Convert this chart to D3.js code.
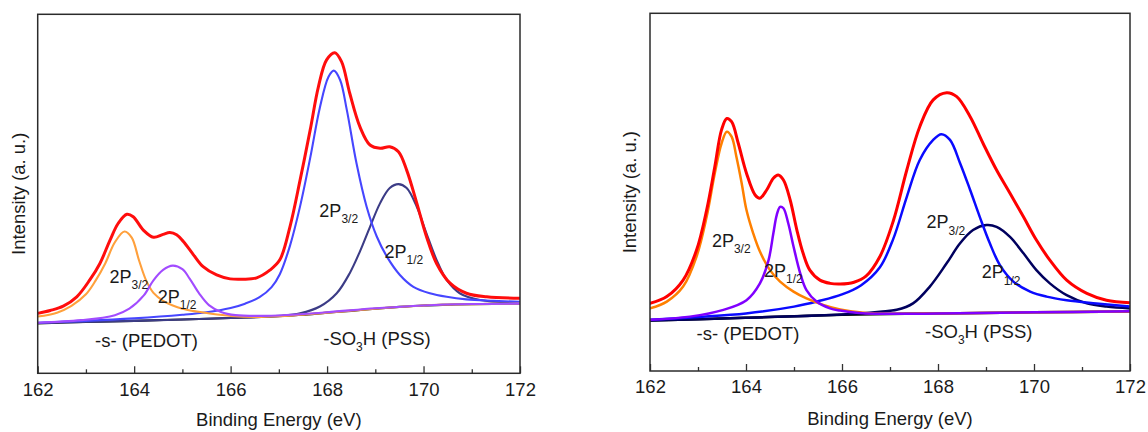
<!DOCTYPE html>
<html>
<head>
<meta charset="utf-8">
<script src="https://cdn.jsdelivr.net/npm/d3@7"></script>
<style>
  html, body { margin: 0; padding: 0; background: #ffffff; }
  svg { display: block; }
  text { font-family: "Liberation Sans", Arial, Helvetica, sans-serif; fill: #1a1a1a; }
</style>
</head>
<body>
<svg id="chart" width="1148" height="432"></svg>
<script>
// Binding-energy axis ticks (eV)
const energyTicks = [162, 164, 166, 168, 170, 172];
const minorTicks = [163, 165, 167, 169, 171];

// ---- Left spectrum: [binding energy (eV), intensity (a.u.)] ----
const leftBackground = [[162.0,13.9],[163.0,14.3],[164.0,14.6],[165.0,15.0],[166.0,15.4],[166.5,15.6],[167.0,15.9],[167.5,16.3],[168.0,16.9],[168.5,17.4],[169.0,18.0],[169.5,18.5],[170.0,18.9],[170.5,19.1],[171.0,19.25],[172.0,19.4]];
const leftPedot32 = [[162.0,15.8],[162.4,16.9],[162.7,18.8],[163.0,22.0],[163.2,25.8],[163.4,30.6],[163.6,36.5],[163.8,39.5],[163.95,37.8],[164.1,31.5],[164.25,25.8],[164.4,22.4],[164.6,20.2],[164.8,18.9],[165.0,18.0],[165.3,17.2],[165.6,16.6],[166.0,16.0],[166.5,15.7],[167.0,15.9],[168.0,16.9],[169.0,18.0],[170.0,18.9],[171.0,19.25],[172.0,19.4]];
const leftPedot12 = [[162.0,14.1],[162.9,14.8],[163.6,16.2],[163.9,18.0],[164.2,21.7],[164.4,25.9],[164.6,28.8],[164.8,30.0],[165.0,29.0],[165.15,26.4],[165.35,22.2],[165.55,19.0],[165.8,17.1],[166.1,16.2],[166.7,16.0],[167.0,16.1],[168.0,17.0],[169.0,18.1],[170.0,18.9],[171.0,19.3],[172.0,19.4]];
const leftPss32 = [[162.0,14.1],[163.0,14.6],[164.0,15.3],[165.0,16.3],[165.5,17.0],[166.0,18.2],[166.3,19.4],[166.6,21.2],[166.85,24.0],[167.02,27.6],[167.23,35.5],[167.44,46.5],[167.65,60.0],[167.85,74.0],[168.03,82.6],[168.14,84.3],[168.27,81.7],[168.41,73.3],[168.61,58.5],[168.82,46.4],[169.03,38.1],[169.24,32.5],[169.51,27.4],[169.79,24.1],[170.13,22.3],[170.48,21.3],[170.89,20.6],[171.45,20.2],[172.0,19.9]];
const leftPss12 = [[162.0,14.0],[164.0,14.6],[166.0,15.4],[167.02,16.0],[167.44,16.7],[167.85,18.6],[168.2,22.3],[168.47,27.9],[168.68,33.9],[168.89,40.8],[169.1,47.4],[169.3,51.6],[169.48,52.7],[169.65,51.6],[169.86,46.4],[170.06,39.0],[170.27,31.6],[170.48,26.0],[170.75,22.3],[171.17,20.4],[172.0,19.7]];
const leftEnvelope = [[162.0,16.7],[162.26,17.5],[162.53,18.7],[162.81,21.3],[163.08,26.0],[163.29,30.6],[163.5,37.1],[163.67,41.8],[163.85,44.3],[163.98,43.6],[164.19,39.9],[164.4,37.9],[164.6,38.7],[164.74,39.2],[164.88,38.6],[165.02,36.7],[165.23,33.0],[165.43,29.7],[165.71,27.4],[165.99,26.3],[166.26,26.2],[166.54,26.6],[166.82,28.8],[167.02,31.6],[167.23,40.8],[167.44,53.8],[167.65,67.8],[167.82,79.8],[167.99,87.3],[168.16,89.3],[168.3,86.8],[168.47,78.0],[168.68,68.7],[168.89,63.6],[169.1,62.7],[169.3,63.1],[169.48,61.7],[169.65,56.6],[169.86,47.4],[170.06,38.1],[170.27,30.6],[170.55,25.1],[170.89,22.3],[171.31,21.3],[172.0,20.9]];

// ---- Right spectrum: [binding energy (eV), intensity (a.u.)] ----
const rightBackground = [[162.0,14.1],[163.0,14.5],[164.0,14.9],[165.0,15.3],[166.0,15.7],[167.0,15.95],[168.0,16.1],[170.0,16.4],[172.0,16.6]];
const rightPedot32 = [[162.0,17.5],[162.35,19.4],[162.69,23.6],[162.97,32.0],[163.18,43.1],[163.35,55.3],[163.49,63.6],[163.6,66.9],[163.7,65.5],[163.8,59.9],[163.91,52.5],[164.01,45.0],[164.15,38.5],[164.29,33.4],[164.5,28.2],[164.71,25.0],[164.99,22.2],[165.26,20.3],[165.61,18.5],[165.96,17.2],[166.5,16.2],[167.0,16.0],[168.0,16.1],[170.0,16.4],[172.0,16.6]];
const rightPedot12 = [[162.0,14.3],[162.83,15.2],[163.53,17.1],[164.01,19.8],[164.29,24.5],[164.47,31.0],[164.57,38.5],[164.64,43.6],[164.71,45.9],[164.78,45.5],[164.88,41.3],[164.99,34.8],[165.13,27.3],[165.26,22.6],[165.47,19.4],[165.75,17.5],[165.96,16.9],[166.3,16.3],[166.7,16.0],[168.0,16.1],[170.0,16.4],[172.0,16.7]];
const rightPss32 = [[162.0,14.3],[163.0,15.1],[164.0,16.1],[165.0,18.0],[165.5,19.5],[166.0,21.4],[166.4,24.0],[166.79,29.0],[167.07,37.0],[167.35,48.7],[167.62,59.0],[167.9,64.6],[168.07,66.2],[168.25,64.6],[168.46,58.1],[168.67,50.6],[168.87,43.1],[169.08,35.7],[169.29,29.6],[169.57,25.0],[169.92,22.2],[170.26,20.8],[170.68,19.8],[171.3,18.9],[172.0,18.0]];
const rightPss12 = [[162.0,14.1],[164.0,14.9],[166.0,15.8],[166.79,16.6],[167.14,17.1],[167.48,18.9],[167.83,23.6],[168.18,30.1],[168.46,35.7],[168.73,39.4],[169.01,40.8],[169.22,40.3],[169.5,37.5],[169.78,32.9],[170.05,28.2],[170.33,24.5],[170.68,21.2],[171.1,18.9],[171.51,18.0],[172.0,17.5]];
const rightEnvelope = [[162.0,18.9],[162.35,20.8],[162.69,25.4],[162.97,33.8],[163.18,45.0],[163.35,57.1],[163.49,67.4],[163.6,70.6],[163.7,69.7],[163.84,63.6],[164.01,55.3],[164.19,49.2],[164.29,48.3],[164.43,50.6],[164.57,53.9],[164.67,54.8],[164.78,53.4],[164.92,47.8],[165.06,39.4],[165.19,32.9],[165.33,28.2],[165.54,25.4],[165.75,24.5],[165.96,24.3],[166.25,24.8],[166.5,26.5],[166.79,32.0],[167.07,42.0],[167.35,56.2],[167.62,68.3],[167.9,75.8],[168.18,77.8],[168.39,76.7],[168.67,71.1],[168.94,63.6],[169.22,56.2],[169.5,49.7],[169.78,43.1],[170.05,36.6],[170.33,31.0],[170.68,25.4],[171.1,21.7],[171.51,19.8],[172.0,19.1]];

const FONT = '"Liberation Sans", Arial, Helvetica, sans-serif';

const panels = [
  {
    frame: { left: 37.7, right: 520, top: 14.3, bottom: 373.3 },
    yLabelX: 25.3, xLabelY: 426,
    width: { env: 3, comp: 2.1 },
    series: [
      { data: leftBackground, color: "#111111" },
      { data: leftPss12, color: "#3c3c86" },
      { data: leftPss32, color: "#4646ff" },
      { data: leftPedot32, color: "#ffa03c" },
      { data: leftPedot12, color: "#a24cff" },
      { data: leftEnvelope, color: "#ff0d0d", env: true }
    ],
    peaks: [
      { e: 163.49, v: 25.2, sub: "3/2" },
      { e: 164.49, v: 19.6, sub: "1/2" },
      { e: 167.84, v: 43.6, sub: "3/2" },
      { e: 169.19, v: 32.2, sub: "1/2" }
    ],
    groups: [
      { e: 163.19, v: 7.2, parts: [["-s- (PEDOT)", false]] },
      { e: 167.92, v: 7.9, parts: [["-SO", false], ["3", true], ["H (PSS)", false]] }
    ]
  },
  {
    frame: { left: 650, right: 1130, top: 13.3, bottom: 371 },
    yLabelX: 635.6, xLabelY: 425,
    width: { env: 3, comp: 2.5 },
    series: [
      { data: rightBackground, color: "#000000" },
      { data: rightPss12, color: "#00005e" },
      { data: rightPss32, color: "#0a0aff" },
      { data: rightPedot32, color: "#ff8000" },
      { data: rightPedot12, color: "#8000ff" },
      { data: rightEnvelope, color: "#ff0000", env: true }
    ],
    peaks: [
      { e: 163.29, v: 34.8, sub: "3/2" },
      { e: 164.375, v: 26.4, sub: "1/2" },
      { e: 167.76, v: 39.9, sub: "3/2" },
      { e: 168.91, v: 25.9, sub: "1/2" }
    ],
    groups: [
      { e: 162.97, v: 8.6, parts: [["-s- (PEDOT)", false]] },
      { e: 167.73, v: 9.1, parts: [["-SO", false], ["3", true], ["H (PSS)", false]] }
    ]
  }
];

const svg = d3.select("#chart");

panels.forEach(p => {
  const f = p.frame;
  const x = d3.scaleLinear().domain([162, 172]).range([f.left, f.right]);
  const y = d3.scaleLinear().domain([0, 100]).range([f.bottom, f.top]);
  const g = svg.append("g");

  // spectra
  const line = d3.line()
    .x(d => x(d[0]))
    .y(d => y(d[1]))
    .curve(d3.curveCatmullRom.alpha(0.5));

  const clipId = "clip" + Math.round(f.left);
  svg.append("clipPath").attr("id", clipId)
    .append("rect")
    .attr("x", f.left).attr("y", f.top)
    .attr("width", f.right - f.left).attr("height", f.bottom - f.top);

  const plot = g.append("g").attr("clip-path", `url(#${clipId})`);
  p.series.forEach(s => {
    plot.append("path")
      .datum(s.data)
      .attr("fill", "none")
      .attr("stroke", s.color)
      .attr("stroke-width", s.env ? p.width.env : p.width.comp)
      .attr("stroke-linejoin", "round")
      .attr("stroke-linecap", "round")
      .attr("d", line);
  });

  // bottom axis: major ticks with labels, minor ticks, both pointing inward
  const axis = g.append("g")
    .attr("transform", `translate(0,${f.bottom})`)
    .call(d3.axisBottom(x).tickValues(energyTicks).tickSizeInner(-7).tickSizeOuter(0).tickPadding(9.3).tickFormat(d3.format("d")));
  axis.select(".domain").remove();
  axis.selectAll("line").attr("stroke", "#333").attr("stroke-width", 1.3);
  axis.selectAll("text").attr("font-size", 18.5).attr("font-family", FONT).attr("fill", "#1a1a1a");

  const minor = g.append("g")
    .attr("transform", `translate(0,${f.bottom})`)
    .call(d3.axisBottom(x).tickValues(minorTicks).tickSizeInner(-4).tickSizeOuter(0).tickFormat(""));
  minor.select(".domain").remove();
  minor.selectAll("line").attr("stroke", "#333").attr("stroke-width", 1.3);

  // frame
  g.append("rect")
    .attr("x", f.left).attr("y", f.top)
    .attr("width", f.right - f.left).attr("height", f.bottom - f.top)
    .attr("fill", "none").attr("stroke", "#2b2b2b").attr("stroke-width", 1.5);

  // axis titles
  g.append("text")
    .attr("x", (f.left + f.right) / 2).attr("y", p.xLabelY)
    .attr("text-anchor", "middle").attr("font-size", 18.5)
    .text("Binding Energy (eV)");
  g.append("text")
    .attr("transform", `translate(${p.yLabelX},${(f.top + f.bottom) / 2}) rotate(-90)`)
    .attr("text-anchor", "middle").attr("font-size", 18.5)
    .text("Intensity (a. u.)");

  // peak labels 2P3/2 / 2P1/2
  p.peaks.forEach(k => {
    const t = g.append("text")
      .attr("x", x(k.e)).attr("y", y(k.v))
      .attr("font-size", 18);
    t.append("tspan").text("2P");
    t.append("tspan").attr("font-size", 12).attr("dy", 6.5).text(k.sub);
  });

  // chemical-state labels
  p.groups.forEach(k => {
    const t = g.append("text")
      .attr("x", x(k.e)).attr("y", y(k.v))
      .attr("font-size", 18.5);
    k.parts.forEach(([str, isSub]) => {
      if (isSub) {
        t.append("tspan").attr("font-size", 12).attr("dy", 6).text(str);
      } else {
        const ts = t.append("tspan").text(str);
        if (str.startsWith("H")) ts.attr("dy", -6);
      }
    });
  });
});
</script>
</body>
</html>
